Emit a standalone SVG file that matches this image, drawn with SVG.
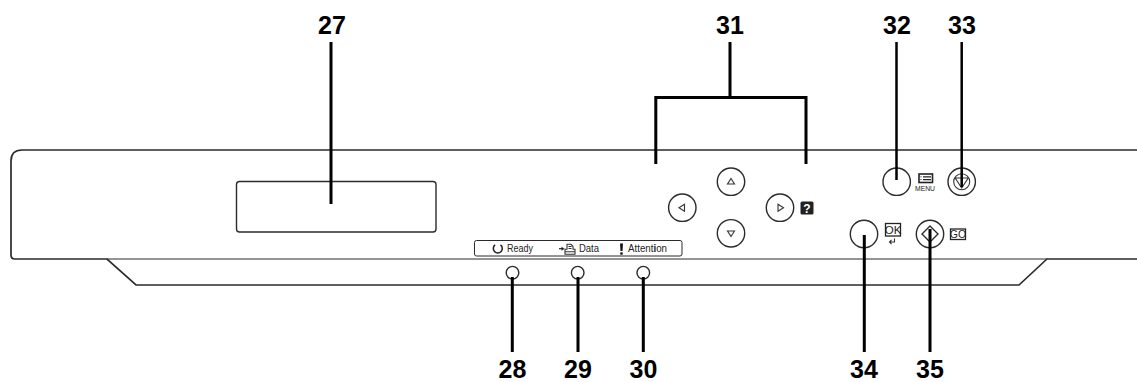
<svg xmlns="http://www.w3.org/2000/svg" width="1137" height="382" viewBox="0 0 1137 382">
<style>
.o{fill:none;stroke:#2b2b2b;stroke-width:1.4}
.l{fill:none;stroke:#000;stroke-width:3}
.f{fill:none;stroke:#000;stroke-width:2.5}
.n{font:bold 25px "Liberation Sans",Arial,sans-serif;fill:#000;text-anchor:middle}
.t{font:10.500px "Liberation Sans",Arial,sans-serif;fill:#222}
.m{fill:none;stroke:#333;stroke-width:1.100}
.k{font-family:"Liberation Sans",Arial,sans-serif;fill:#222;text-anchor:middle}
</style>
<rect width="1137" height="382" fill="#fff"/>
<g id="panel">
<path class="o" style="stroke-width:1.700" d="M1137 150H22Q11 150 11 161V255Q11 259 15 259H107L136 285H1019L1047 259H1137"/>
<path class="o" style="stroke-width:1" d="M107 259H1047"/>
</g>
<g id="display"><rect x="236.500" y="181.500" width="199.500" height="50.500" rx="3" class="o"/></g>
<g id="led-panel">
<rect x="474.500" y="240.500" width="207.500" height="15.500" rx="2" class="o" style="stroke-width:1"/>
<path d="M500.500 244.800a4.500 4.500 0 1 1-5.400 0" fill="none" stroke="#222" stroke-width="1.500"/>
<text class="t" x="507" y="252.300" textLength="26" lengthAdjust="spacingAndGlyphs">Ready</text>
<path d="M559 248.700h3" stroke="#222" stroke-width="1.200"/><path d="M564.500 248.700l-3-2v4z" fill="#222"/>
<path class="m" d="M565 254.300v-5h2v-5h4l2 2v3h2v5zM565 251.700h10M568.500 246.500h3M568.500 248.500h3"/>
<text class="t" x="579" y="252.300" textLength="20" lengthAdjust="spacingAndGlyphs">Data</text>
<path d="M620 243.500h3l-.5 7.500h-2z" fill="#111"/><rect x="620.300" y="252.300" width="2.400" height="2.400" fill="#111"/>
<text class="t" x="628" y="252.300" textLength="39" lengthAdjust="spacingAndGlyphs">Attent<tspan font-weight="bold">i</tspan>on</text>
</g>
<g id="led-28"><circle cx="512.500" cy="272.700" r="6.300" class="o"/></g>
<g id="led-29"><circle cx="577.700" cy="272.700" r="6.300" class="o"/></g>
<g id="led-30"><circle cx="643.300" cy="272.700" r="6.300" class="o"/></g>
<g id="btn-up"><circle cx="731" cy="181.700" r="13.700" class="o"/><path class="m" d="M731 178.500l3.500 5.500h-7z"/></g>
<g id="btn-left"><circle cx="682.300" cy="207.700" r="13.700" class="o"/><path class="m" d="M679 207.700l5.500-3.500v7z"/></g>
<g id="btn-right"><circle cx="780" cy="207.700" r="13.700" class="o"/><path class="m" d="M783.500 207.700l-5.500-3.500v7z"/></g>
<g id="btn-down"><circle cx="731" cy="233.300" r="13.700" class="o"/><path class="m" d="M731 236.500l3.500-5.500h-7z"/></g>
<g id="help"><rect x="800.500" y="201.500" width="13" height="13" rx="1.500" fill="#222"/><text x="807" y="212.500" font-family="Liberation Sans,sans-serif" font-weight="bold" font-size="12" fill="#fff" text-anchor="middle">?</text></g>
<g id="btn-menu"><circle cx="896.700" cy="181.700" r="13.700" class="o"/>
<rect x="919" y="174" width="13.500" height="8.500" fill="#fff" stroke="#222" stroke-width="1.600"/><path d="M923 176.800h8M923 179.600h8" stroke="#222" stroke-width="1.200"/><path d="M920.500 176.800h1M920.500 179.600h1" stroke="#222" stroke-width="1"/>
<text class="k" x="925" y="190.700" font-size="7" textLength="20" lengthAdjust="spacingAndGlyphs">MENU</text></g>
<g id="btn-stop"><circle cx="961.700" cy="181.700" r="13.700" class="o"/><circle cx="961.700" cy="181.700" r="8" class="m"/><path class="m" d="M961.700 188l-6.500-10h13z"/></g>
<g id="btn-ok"><circle cx="864" cy="234" r="13.700" class="o"/>
<rect x="885.500" y="223.500" width="15" height="12.500" fill="#fff" stroke="#222" stroke-width="1.300"/><text class="k" x="893" y="234" font-size="11.500">OK</text>
<path class="m" d="M894.500 238.500v3.500h-5M891.500 240l-2 2 2 2"/></g>
<g id="btn-go"><circle cx="930" cy="234" r="13.700" class="o"/><path class="o" d="M930 226l8 8-8 8-8-8z"/>
<rect x="950.500" y="229" width="15" height="10.500" fill="#fff" stroke="#222" stroke-width="1.300"/><text class="k" x="958" y="238.300" font-size="10.500">GO</text></g>
<g id="connectors">
<path class="l" d="M331 42V204"/>
<path class="l" d="M730 42V97.500M655.800 164V97.500H806V164"/>
<path class="f" d="M896.500 42V180M961.700 42V187"/>
<path class="l" d="M512.300 277V352M578 277V352M643.300 277V352"/>
<path class="l" d="M864.300 235V352M930 229V352"/>
</g>
<g id="labels">
<text class="n" x="332" y="34">27</text>
<text class="n" x="730" y="34">31</text>
<text class="n" x="897" y="34">32</text>
<text class="n" x="962" y="34">33</text>
<text class="n" x="512.500" y="378">28</text>
<text class="n" x="578" y="378">29</text>
<text class="n" x="643.500" y="378">30</text>
<text class="n" x="864" y="378">34</text>
<text class="n" x="930" y="378">35</text>
</g>
</svg>
